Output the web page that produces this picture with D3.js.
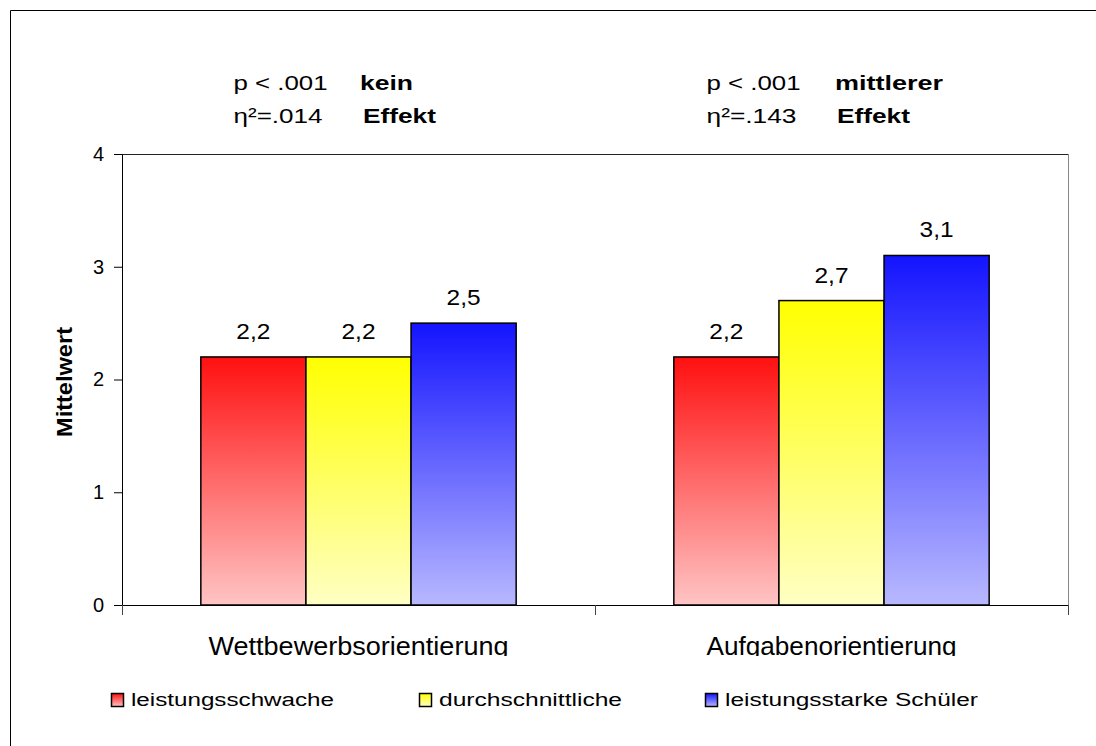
<!DOCTYPE html>
<html>
<head>
<meta charset="utf-8">
<script src="https://cdn.jsdelivr.net/npm/d3@7"></script>
<style>
  html, body { margin: 0; padding: 0; background: #fff; overflow: hidden; }
  svg { display: block; font-family: "Liberation Sans", Arial, sans-serif; }
</style>
</head>
<body>
<svg id="chart" width="1096" height="746"></svg>
<script>
// ---- data ----
const categories = ["Wettbewerbsorientierung", "Aufgabenorientierung"];
const seriesNames = ["leistungsschwache", "durchschnittliche", "leistungsstarke Schüler"];
const valuesSchwach = [2.2, 2.2];
const valuesDurchschnitt = [2.2, 2.7];
const valuesStark = [2.5, 3.1];
const valueLabels = [["2,2", "2,2"], ["2,2", "2,7"], ["2,5", "3,1"]];
const yTicks = [0, 1, 2, 3, 4];
const pTexts = ["p < .001", "p < .001"];
const etaTexts = ["η²=.014", "η²=.143"];
const effectLine1 = ["kein", "mittlerer"];
const effectLine2 = ["Effekt", "Effekt"];

// ---- styles / layout ----
const seriesValues = [valuesSchwach, valuesDurchschnitt, valuesStark];
const gradStops = [["#ff1010", "#ffc4c4"], ["#ffff00", "#ffffc4"], ["#1414ff", "#b8b8ff"]];
const catLabelWidths = [300, 250];
const legendTextWidths = [203, 183, 253];
const legendX = [111, 419, 705];
const pWidths = [94, 94], etaWidths = [89, 90], eff1Widths = [53, 108], eff2Widths = [73, 73];

const svg = d3.select("#chart");
const defs = svg.append("defs");
gradStops.forEach((s, i) => {
  const g = defs.append("linearGradient").attr("id", "grad" + i)
    .attr("x1", 0).attr("y1", 0).attr("x2", 0).attr("y2", 1);
  g.append("stop").attr("offset", "0%").attr("stop-color", s[0]);
  g.append("stop").attr("offset", "100%").attr("stop-color", s[1]);
});
defs.append("clipPath").attr("id", "catClip")
  .append("rect").attr("x", 0).attr("y", 0).attr("width", 1096).attr("height", 656);

// outer frame (only left and top edges are inside the picture)
svg.append("path").attr("d", "M10.5,746 V10.5 H1096")
  .attr("fill", "none").attr("stroke", "#000").attr("stroke-width", 1);

const pLeft = 122, pRight = 1068, pTop = 154, pBottom = 605;
const y = d3.scaleLinear().domain([0, 4]).range([pBottom, pTop]);
const x0 = d3.scaleBand().domain(categories).range([pLeft, pRight]).padding(0);
const x1 = d3.scaleBand().domain(seriesNames).range([0, x0.bandwidth()]).paddingInner(0).paddingOuter(0.75);

// plot area border (top + right)
svg.append("line").attr("x1", pLeft).attr("x2", pRight).attr("y1", pTop + 0.5).attr("y2", pTop + 0.5)
  .attr("stroke", "#222").attr("stroke-width", 1);
svg.append("line").attr("x1", pRight + 0.5).attr("x2", pRight + 0.5).attr("y1", pTop).attr("y2", pBottom)
  .attr("stroke", "#888").attr("stroke-width", 1);

// bars
const groups = svg.append("g").selectAll("g").data(categories).join("g")
  .attr("transform", d => `translate(${x0(d)},0)`);
groups.each(function (cat, ci) {
  const g = d3.select(this);
  seriesNames.forEach((s, si) => {
    const v = seriesValues[si][ci];
    g.append("rect")
      .attr("x", x1(s)).attr("y", y(v))
      .attr("width", x1.bandwidth()).attr("height", y(0) - y(v))
      .attr("fill", `url(#grad${si})`)
      .attr("stroke", "#000").attr("stroke-width", 1.5);
    g.append("text")
      .attr("x", x1(s) + x1.bandwidth() / 2).attr("y", y(v) - 18)
      .attr("text-anchor", "middle").attr("font-size", 22)
      .attr("textLength", 34).attr("lengthAdjust", "spacingAndGlyphs")
      .text(valueLabels[si][ci]);
  });
});

// y axis
const yAxis = svg.append("g").attr("transform", `translate(${pLeft},0)`)
  .call(d3.axisLeft(y).tickValues(yTicks).tickSize(8).tickPadding(10).tickFormat(d3.format("d")));
yAxis.select(".domain").attr("stroke", "#000");
yAxis.selectAll(".tick line").attr("stroke", "#000");
yAxis.selectAll("text").attr("font-size", 20).attr("font-family", "Liberation Sans, Arial, sans-serif").attr("fill", "#000");

// x axis (category boundary ticks)
const xb = d3.scaleLinear().domain([0, categories.length]).range([pLeft, pRight]);
const xAxis = svg.append("g").attr("transform", `translate(0,${pBottom})`)
  .call(d3.axisBottom(xb).tickValues(d3.range(categories.length + 1)).tickSize(10).tickFormat(""));
xAxis.select(".domain").attr("stroke", "#000");
xAxis.selectAll(".tick line").attr("stroke", "#444");

// category labels (clipped like the original)
svg.append("g").attr("clip-path", "url(#catClip)")
  .selectAll("text").data(categories).join("text")
  .attr("x", d => x0(d) + x0.bandwidth() / 2).attr("y", 655)
  .attr("text-anchor", "middle").attr("font-size", 25)
  .attr("textLength", (d, i) => catLabelWidths[i]).attr("lengthAdjust", "spacingAndGlyphs")
  .text(d => d);

// y axis title
svg.append("text")
  .attr("transform", "translate(72,382) rotate(-90)")
  .attr("text-anchor", "middle").attr("font-size", 22).attr("font-weight", "bold")
  .attr("textLength", 110).attr("lengthAdjust", "spacingAndGlyphs")
  .text("Mittelwert");

// statistics annotations
categories.forEach((c, i) => {
  const cx = x0(c) + x0.bandwidth() / 2;
  const add = (txt, dx, yy, w, bold) => svg.append("text")
    .attr("x", cx + dx).attr("y", yy).attr("font-size", 21)
    .attr("font-weight", bold ? "bold" : "normal")
    .attr("textLength", w).attr("lengthAdjust", "spacingAndGlyphs")
    .text(txt);
  add(pTexts[i], -125, 90, pWidths[i], false);
  add(etaTexts[i], -125, 123, etaWidths[i], false);
  add(effectLine1[i], i === 0 ? 1.5 : 3.5, 90, eff1Widths[i], true);
  add(effectLine2[i], i === 0 ? 4.5 : 5.5, 123, eff2Widths[i], true);
});

// legend
const leg = svg.append("g").selectAll("g").data(seriesNames).join("g")
  .attr("transform", (d, i) => `translate(${legendX[i]},693)`);
leg.append("rect").attr("x", 0.5).attr("y", 0.5).attr("width", 12).attr("height", 13)
  .attr("fill", (d, i) => `url(#grad${i})`).attr("stroke", "#000").attr("stroke-width", 1.5);
leg.append("text").attr("x", 20).attr("y", 13).attr("font-size", 18)
  .attr("textLength", (d, i) => legendTextWidths[i]).attr("lengthAdjust", "spacingAndGlyphs")
  .text(d => d);
</script>
</body>
</html>
